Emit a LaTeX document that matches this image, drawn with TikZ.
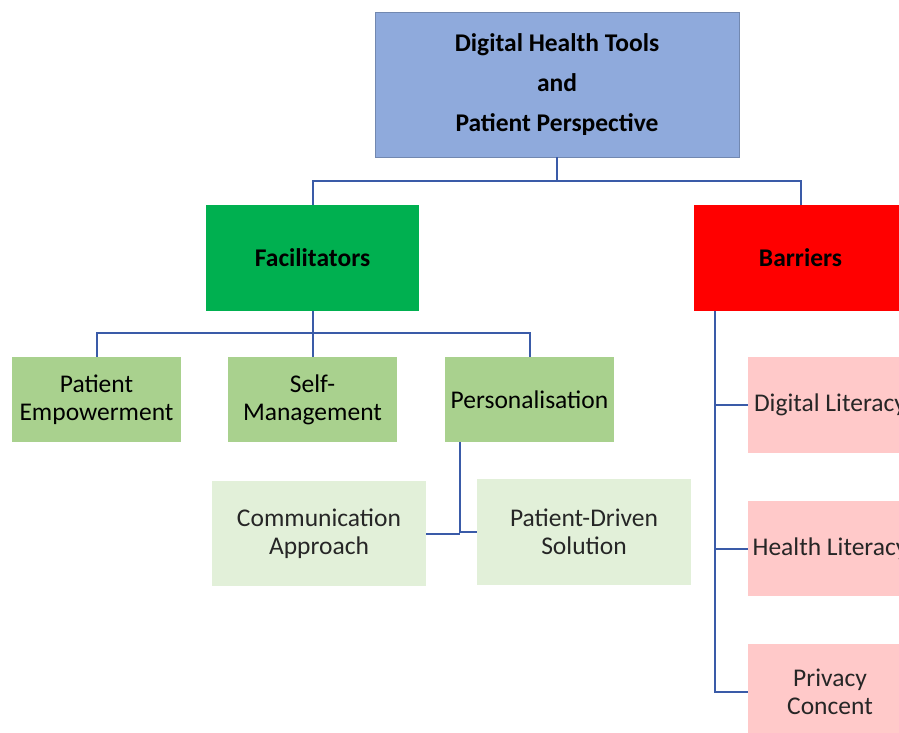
\documentclass[tikz,border=0pt]{standalone}
\usepackage{fontspec}
\setmainfont{Carlito}
\definecolor{topblue}{HTML}{8FAADC}
\definecolor{facgreen}{HTML}{00B050}
\definecolor{barred}{HTML}{FF0000}
\definecolor{midgreen}{HTML}{A9D18E}
\definecolor{lightgreen}{HTML}{E2F0D9}
\definecolor{lightpink}{HTML}{FFC9C9}
\definecolor{linkblue}{HTML}{3A5BA8}
\tikzset{
  box/.style={rectangle, inner sep=0pt, align=center, text=black, font=\fontsize{25.5}{28}\selectfont},
  headbox/.style={box, font=\bfseries\fontsize{25.5}{40}\selectfont},
  link/.style={draw=linkblue, line width=2pt}
}
\begin{document}
\begin{tikzpicture}[x=1pt,y=-1pt]
\useasboundingbox (0,0) rectangle (899,732);
\clip (0,0) rectangle (899,732);
\fill[white] (0,0) rectangle (899,732);
\node[headbox, fill=topblue, draw=topblue!80!black, line width=0.6pt, minimum width=364pt, minimum height=145pt] (top) at (557,84.5) {Digital Health Tools\\and\\Patient Perspective};
\node[headbox, fill=facgreen, minimum width=213pt, minimum height=106pt] (fac) at (312.5,258) {Facilitators};
\node[headbox, fill=barred, minimum width=213pt, minimum height=106pt] (bar) at (800.5,258) {Barriers};
\node[box, fill=midgreen, minimum width=169pt, minimum height=85pt] (pe) at (96.5,399.5) {Patient\\Empowerment};
\node[box, fill=midgreen, minimum width=169pt, minimum height=85pt] (sm) at (312.5,399.5) {Self-\\Management};
\node[box, fill=midgreen, minimum width=169pt, minimum height=85pt] (ps) at (529.5,399.5) {Personalisation};
\node[box, fill=lightgreen, text=black!85, minimum width=214pt, minimum height=105pt] (ca) at (319,533.5) {Communication\\Approach};
\node[box, fill=lightgreen, text=black!85, minimum width=214pt, minimum height=106pt] (pd) at (584,532) {Patient-Driven\\Solution};
\node[box, fill=lightpink, text=black!85, minimum width=164pt, minimum height=96pt] (dl) at (830,405) {Digital Literacy};
\node[box, fill=lightpink, text=black!85, minimum width=164pt, minimum height=95pt] (hl) at (830,548.5) {Health Literacy};
\node[box, fill=lightpink, text=black!85, minimum width=164pt, minimum height=96pt] (pc) at (830,692) {Privacy\\Concent};
\coordinate (j1) at (557,181);
\coordinate (j2) at (313,333);
\coordinate (pj) at (460,533);
\coordinate (bx) at (715,311);
\draw[link] (top.south) -- (top.south |- j1) -| (fac.north);
\draw[link] (top.south |- j1) -| (bar.north);
\draw[link] (fac.south) -- (fac.south |- j2) -| (pe.north);
\draw[link] (fac.south |- j2) -| (sm.north);
\draw[link] (fac.south |- j2) -| (ps.north);
\draw[link] (ps.south -| pj) -- (pj);
\draw[link] (ca.east) -- (ca.east -| pj);
\draw[link] (pj |- pd.west) -- (pd.west);
\draw[link] (bar.south -| bx) |- (pc.west);
\draw[link] (dl.west -| bx) -- (dl.west);
\draw[link] (hl.west -| bx) -- (hl.west);
\end{tikzpicture}
\end{document}
